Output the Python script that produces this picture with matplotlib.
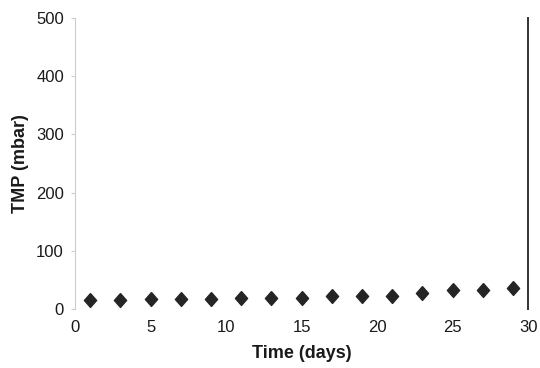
import matplotlib.pyplot as plt

plt.rcParams['font.family'] = ['Liberation Sans', 'DejaVu Sans']

days = [1, 3, 5, 7, 9, 11, 13, 15, 17, 19, 21, 23, 25, 27, 29]
tmp = [15, 15, 17, 17, 17, 19, 19, 19, 23, 23, 23, 27, 33, 33, 36]
xticks = [0, 5, 10, 15, 20, 25, 30]
yticks = [0, 100, 200, 300, 400, 500]

fig = plt.figure(figsize=(5.4, 3.68), dpi=100)
ax = fig.add_axes([0.139, 0.160, 0.839, 0.791])

# slightly tall diamond like the original marker
diamond = [(0, 1), (0.88, 0), (0, -1), (-0.88, 0), (0, 1)]
ax.plot(days, tmp, linestyle='none', marker=diamond, markersize=10,
        color='#252525', clip_on=False)

ax.set_xlim(0, 30)
ax.set_ylim(0, 500)
ax.set_xticks(xticks)
ax.set_yticks(yticks)

# scanned look: faint left axis, heavy right edge, no bottom/top
ax.spines['top'].set_visible(False)
ax.spines['bottom'].set_visible(False)
ax.spines['left'].set_color('#cccccc')
ax.spines['right'].set_color('#333333')
ax.spines['right'].set_linewidth(1.4)
ax.tick_params(axis='y', length=3, color='#cccccc', labelsize=12, pad=5,
               labelcolor='#1a1a1a')
ax.tick_params(axis='x', length=0, labelsize=12, pad=8, labelcolor='#1a1a1a')

ax.set_xlabel('Time (days)', fontsize=13, fontweight='bold', labelpad=7,
              color='#1a1a1a')
ax.set_ylabel('TMP (mbar)', fontsize=13, fontweight='bold', labelpad=5,
              color='#1a1a1a')

fig.savefig('out.png', dpi=100)
